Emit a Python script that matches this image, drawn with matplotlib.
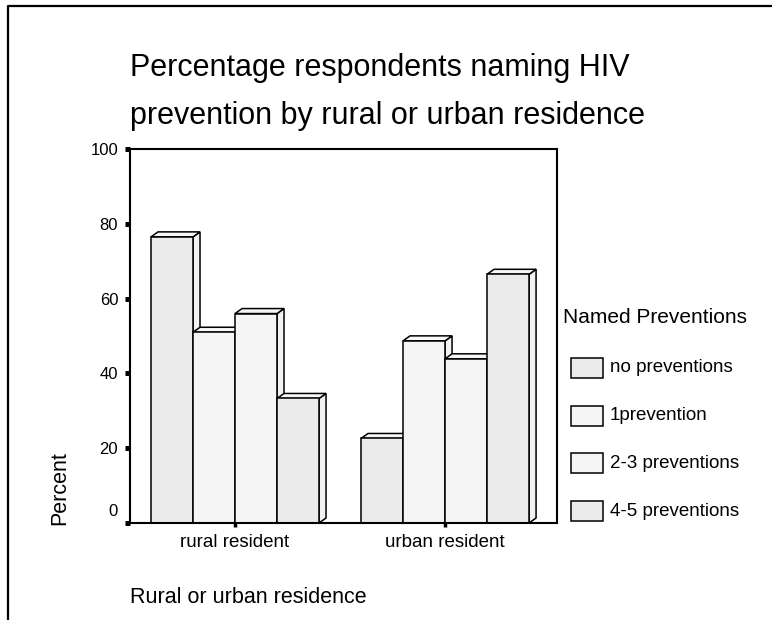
import matplotlib
matplotlib.use("Agg")
import matplotlib.pyplot as plt
from matplotlib.patches import Polygon, Rectangle
from matplotlib.lines import Line2D

plt.rcParams['font.family'] = ['Liberation Sans', 'DejaVu Sans']

residence = ['rural resident', 'urban resident']
preventions = ['no preventions', '1prevention', '2-3 preventions', '4-5 preventions']
rural = [76.5, 51.0, 56.0, 33.3]
urban = [22.6, 48.7, 43.9, 66.5]
colors = ['#ebebeb', '#f5f5f5', '#f5f5f5', '#ebebeb']

W, H = 772, 620
fig = plt.figure(figsize=(W / 100, H / 100), dpi=100)


def fx(px):
    return px / W


def fy(py):
    return 1 - py / H


# outer frame (left and top edges only)
fig.add_artist(Line2D([fx(8), fx(8), fx(772)], [fy(620), fy(6), fy(6)],
                      color='black', lw=1.6))

fig.text(fx(130), fy(76), 'Percentage respondents naming HIV', fontsize=22,
         ha='left', va='baseline')
fig.text(fx(130), fy(124), 'prevention by rural or urban residence', fontsize=22,
         ha='left', va='baseline')

ax = fig.add_axes([fx(130), fy(523), (557 - 130) / W, (523 - 149) / H])
ax.set_xlim(-0.5, 1.533)
ax.set_ylim(0, 100)

bw = 0.2
dx = 7 / 210.0      # depth offset in data units (x)
dy = 5 / 3.74       # depth offset in data units (y)

z = 3
for i, vals in enumerate([rural, urban]):
    for j, h in enumerate(vals):
        xc = i + (j - 1.5) * bw
        x0, x1 = xc - bw / 2, xc + bw / 2
        side = Polygon([(x1, 0), (x1 + dx, dy), (x1 + dx, h + dy), (x1, h)],
                       closed=True, facecolor='#f2f2f2', edgecolor='black',
                       lw=1.1, zorder=z, clip_on=False)
        top = Polygon([(x0, h), (x0 + dx, h + dy), (x1 + dx, h + dy), (x1, h)],
                      closed=True, facecolor='#f7f7f7', edgecolor='black',
                      lw=1.1, zorder=z, clip_on=False)
        ax.add_patch(side)
        ax.add_patch(top)
        ax.bar(xc, h, width=bw, color=colors[j], edgecolor='black', lw=1.1,
               zorder=z + 1)
        z += 2

for s in ax.spines.values():
    s.set_linewidth(1.5)
    s.set_zorder(100)

ax.set_yticks([0, 20, 40, 60, 80, 100])
ax.set_yticklabels(['', '20', '40', '60', '80', '100'], fontsize=12)
ax.tick_params(axis='y', direction='out', length=3.5, width=3.6, pad=5)
ax.annotate('0', xy=(0, 0), xycoords=('axes fraction', 'data'),
            xytext=(-12, 12), textcoords='offset pixels',
            ha='right', va='center', fontsize=12)

ax.set_xticks([0, 1])
ax.set_xticklabels(residence, fontsize=13.5)
ax.tick_params(axis='x', direction='out', length=3, width=2.5, pad=5)

fig.text(fx(130), fy(603), 'Rural or urban residence', fontsize=15.5,
         ha='left', va='baseline')
fig.text(fx(60), fy(525), 'Percent', fontsize=15.5, rotation=90,
         ha='center', va='bottom')

# legend
fig.text(fx(563), fy(323), 'Named Preventions', fontsize=15,
         ha='left', va='baseline')
ys = [368, 416, 463, 511]
for lab, c, yc in zip(preventions, colors, ys):
    fig.add_artist(Rectangle((fx(571), fy(yc + 10)), 32 / W, 20 / H,
                             facecolor=c, edgecolor='black', lw=1.1))
    fig.text(fx(610), fy(yc), lab, fontsize=13.5, ha='left', va='center')

fig.savefig('out.png', dpi=100)
